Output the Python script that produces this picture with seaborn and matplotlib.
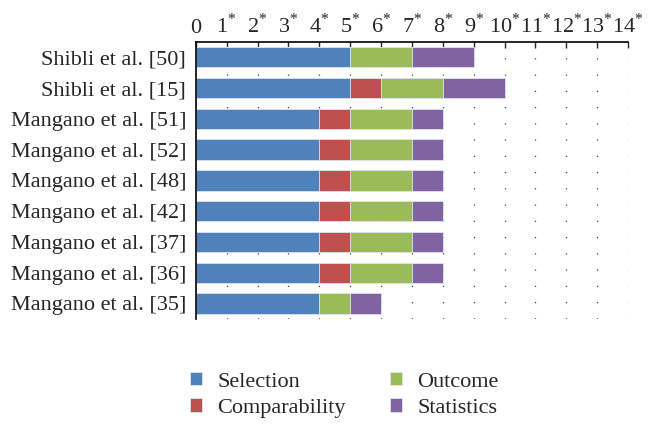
import numpy as np
import pandas as pd
import seaborn as sns
import matplotlib.pyplot as plt

studies = ['Shibli et al. [50]', 'Shibli et al. [15]', 'Mangano et al. [51]',
           'Mangano et al. [52]', 'Mangano et al. [48]', 'Mangano et al. [42]',
           'Mangano et al. [37]', 'Mangano et al. [36]', 'Mangano et al. [35]']
selection = [5, 5, 4, 4, 4, 4, 4, 4, 4]
comparability = [0, 1, 1, 1, 1, 1, 1, 1, 0]
outcome = [2, 2, 2, 2, 2, 2, 2, 2, 1]
statistics = [2, 2, 1, 1, 1, 1, 1, 1, 1]
tick_labels = ['0'] + ['%d$^{*}$' % i for i in range(1, 15)]

categories = ['Selection', 'Comparability', 'Outcome', 'Statistics']
colors = ['#4F81BD', '#C0504D', '#9BBB59', '#8064A2']

df = pd.DataFrame({'study': studies, 'Selection': selection,
                   'Comparability': comparability, 'Outcome': outcome,
                   'Statistics': statistics})
cum = df[categories].cumsum(axis=1)

sns.set_style('white')
plt.rcParams['font.family'] = ['Liberation Serif', 'DejaVu Serif']
plt.rcParams['mathtext.fontset'] = 'custom'
plt.rcParams['mathtext.rm'] = 'Liberation Serif'

fig = plt.figure(figsize=(6.57, 4.32), dpi=100)
ax = fig.add_axes([0.298, 0.262, 0.658, 0.641])

# stacked bars: draw cumulative totals from the back to the front
for cat, col in reversed(list(zip(categories, colors))):
    sns.barplot(x=cum[cat], y=df['study'], orient='h', color=col,
                width=0.66, edgecolor='#dfe6f0', linewidth=0.6, ax=ax,
                label=cat, saturation=1)

ax.set_xlim(0, 14)
ax.set_xticks(np.arange(15))
ax.set_xticklabels(tick_labels, fontsize=16)
ax.xaxis.tick_top()
ax.tick_params(axis='x', direction='in', length=4, width=1, pad=3, top=True, bottom=False)
ax.tick_params(axis='y', length=0, pad=7, labelsize=16)
ax.set_xlabel('')
ax.set_ylabel('')
for x in range(1, 15):
    ax.axvline(x, color='#444444', lw=0.9, ls=(0, (1, 12)), zorder=0)

for s in ['bottom', 'right']:
    ax.spines[s].set_visible(False)
ax.spines['top'].set_color('black')
ax.spines['left'].set_color('black')
ax.spines['top'].set_linewidth(1.2)
ax.spines['left'].set_linewidth(1.2)

handles, labels = ax.get_legend_handles_labels()
order = [labels.index(c) for c in categories]
leg = ax.legend([handles[i] for i in order], categories, ncol=2,
                loc='upper left', bbox_to_anchor=(-0.06, -0.12), frameon=False,
                fontsize=16, handlelength=0.55, handleheight=0.55,
                columnspacing=2.0, labelspacing=0.3, handletextpad=0.68)

fig.savefig('out.png', dpi=100)
